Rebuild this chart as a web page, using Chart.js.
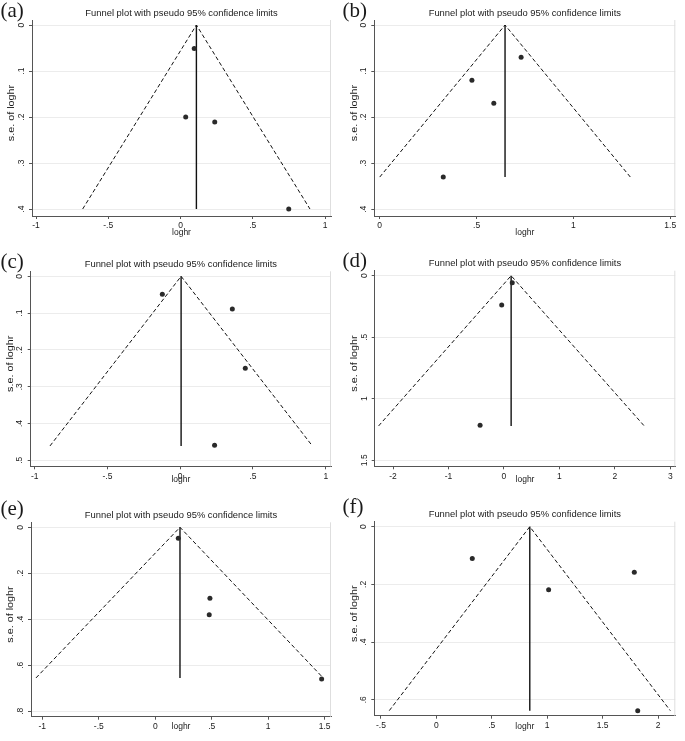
<!DOCTYPE html>
<html>
<head>
<meta charset="utf-8">
<script src="https://cdn.jsdelivr.net/npm/chart.js@4"></script>
<style>
  html, body { margin: 0; padding: 0; background: #fff; }
  #page { position: relative; width: 685px; height: 741px; overflow: hidden; }
  canvas { position: absolute; }
</style>
</head>
<body>
<div id="page"></div>
<script>
// values, one group per panel
const titleText = "Funnel plot with pseudo 95% confidence limits";
const xTitle = "loghr";
const yTitle = "s.e. of loghr";

// (a)
const loghrA = [0.095, 0.036, 0.237, 0.749];
const seA = [0.051, 0.2, 0.211, 0.4];
const funnelXA = [-0.677, 0.11, 0.896];
const funnelYA = [0.4, 0, 0.4];
const xTicksA = [-1, -0.5, 0, 0.5, 1];
const yTicksA = [0, 0.1, 0.2, 0.3, 0.4];

// (b)
const loghrB = [0.73, 0.476, 0.589, 0.328];
const seB = [0.07, 0.12, 0.17, 0.33];
const funnelXB = [0, 0.647, 1.294];
const funnelYB = [0.33, 0, 0.33];
const xTicksB = [0, 0.5, 1, 1.5];
const yTicksB = [0, 0.1, 0.2, 0.3, 0.4];

// (c)
const loghrC = [-0.123, 0.358, 0.447, 0.236];
const seC = [0.049, 0.089, 0.25, 0.459];
const funnelXC = [-0.895, 0.006, 0.908];
const funnelYC = [0.461, 0, 0.461];
const xTicksC = [-1, -0.5, 0, 0.5, 1];
const yTicksC = [0, 0.1, 0.2, 0.3, 0.4, 0.5];

// (d)
const loghrD = [0.15, -0.04, -0.43];
const seD = [0.057, 0.238, 1.215];
const funnelXD = [-2.26, 0.13, 2.53];
const funnelYD = [1.221, 0, 1.221];
const xTicksD = [-2, -1, 0, 1, 2, 3];
const yTicksD = [0, 0.5, 1, 1.5];

// (e)
const loghrE = [0.204, 0.484, 0.478, 1.473];
const seE = [0.048, 0.309, 0.38, 0.66];
const funnelXE = [-1.056, 0.219, 1.487];
const funnelYE = [0.655, 0, 0.655];
const xTicksE = [-1, -0.5, 0, 0.5, 1, 1.5];
const yTicksE = [0, 0.2, 0.4, 0.6, 0.8];

// (f)
const loghrF = [0.324, 1.786, 1.013, 1.817];
const seF = [0.11, 0.158, 0.219, 0.638];
const funnelXF = [-0.425, 0.843, 2.111];
const funnelYF = [0.638, 0, 0.638];
const xTicksF = [-0.5, 0, 0.5, 1, 1.5, 2];
const yTicksF = [0, 0.2, 0.4, 0.6];

// stata style numbers: .5 and -.5
function stataNum(v) {
  return String(v).replace(/^(-?)0\./, "$1.");
}

const sansFamily = '"Liberation Sans", Arial, sans-serif';

// title, panel letter, y title and the faint right edge of the plot region
const panelDecor = {
  id: "panelDecor",
  afterDraw(chart, args, opts) {
    const { ctx, chartArea: a } = chart;
    ctx.save();
    ctx.strokeStyle = "#dedede";
    ctx.lineWidth = 1;
    ctx.beginPath();
    ctx.moveTo(a.right - 0.5, a.top);
    ctx.lineTo(a.right - 0.5, a.bottom);
    ctx.stroke();

    ctx.fillStyle = "#1a1a1a";
    ctx.font = "9.4px " + sansFamily;
    ctx.textAlign = "center";
    ctx.textBaseline = "middle";
    ctx.fillText(titleText, (a.left + a.right) / 2, a.top - 7);

    ctx.save();
    ctx.translate(a.left - 20, (a.top + a.bottom) / 2 - 5);
    ctx.rotate(-Math.PI / 2);
    ctx.scale(1.2, 1);
    ctx.font = "9px " + sansFamily;
    ctx.fillText(yTitle, 0, 0);
    ctx.restore();

    ctx.font = '21px "Liberation Serif", "Times New Roman", serif';
    ctx.textAlign = "left";
    ctx.textBaseline = "alphabetic";
    ctx.fillText(opts.letter, 0.5, opts.letterY);
    ctx.restore();
  },
};

const panels = [
  { letter: "(a)", cell: [0, 0, 342, 247], L: 32, R: 331, T: 20, B: 216, yPad: 4,
    x: [-1.0277, 1.0415], y: [-0.0109, 0.4152], letterY: 16.5,
    loghr: loghrA, se: seA, fx: funnelXA, fy: funnelYA, xt: xTicksA, yt: yTicksA },
  { letter: "(b)", cell: [342, 0, 343, 247], L: 32.3, R: 333.3, T: 20, B: 216, yPad: 4,
    x: [-0.028, 1.526], y: [-0.0109, 0.4145], letterY: 16.5,
    loghr: loghrB, se: seB, fx: funnelXB, fy: funnelYB, xt: xTicksB, yt: yTicksB },
  { letter: "(c)", cell: [0, 247, 342, 247], L: 30.7, R: 331, T: 24.3, B: 219.3, yPad: 4,
    x: [-1.0275, 1.036], y: [-0.0136, 0.5163], letterY: 21.3,
    loghr: loghrC, se: seC, fx: funnelXC, fy: funnelYC, xt: xTicksC, yt: yTicksC },
  { letter: "(d)", cell: [342, 247, 343, 247], L: 32.7, R: 333.3, T: 23.7, B: 219.3, yPad: 1.6,
    x: [-2.33, 3.09], y: [-0.0406, 1.549], letterY: 19.5,
    loghr: loghrD, se: seD, fx: funnelXD, fy: funnelYD, xt: xTicksD, yt: yTicksD },
  { letter: "(e)", cell: [0, 494, 342, 247], L: 31, R: 331, T: 28.3, B: 222.7, yPad: 4,
    x: [-1.1, 1.556], y: [-0.0217, 0.8235], letterY: 20.5,
    loghr: loghrE, se: seE, fx: funnelXE, fy: funnelYE, xt: xTicksE, yt: yTicksE },
  { letter: "(f)", cell: [342, 494, 343, 247], L: 32.3, R: 333.3, T: 27.7, B: 221.7, yPad: 4,
    x: [-0.56, 2.156], y: [-0.0173, 0.6555], letterY: 18.5,
    loghr: loghrF, se: seF, fx: funnelXF, fy: funnelYF, xt: xTicksF, yt: yTicksF },
];

const page = document.getElementById("page");
const axisFont = { family: sansFamily, size: 8.5 };

panels.forEach((p) => {
  const [cx, cy, cw, ch] = p.cell;
  const canvas = document.createElement("canvas");
  canvas.width = cw;
  canvas.height = ch;
  canvas.style.left = cx + "px";
  canvas.style.top = cy + "px";
  page.appendChild(canvas);

  const pooled = p.fx[1];
  const seMax = p.fy[0];

  new Chart(canvas, {
    type: "scatter",
    data: {
      datasets: [
        {
          data: p.fx.map((v, i) => ({ x: v, y: p.fy[i] })),
          showLine: true,
          borderColor: "#111",
          borderWidth: 1,
          borderDash: [4, 2.5],
          pointRadius: 0,
          order: 3,
        },
        {
          data: [{ x: pooled, y: 0 }, { x: pooled, y: seMax }],
          showLine: true,
          borderColor: "#111",
          borderWidth: 1.4,
          pointRadius: 0,
          order: 2,
        },
        {
          data: p.loghr.map((v, i) => ({ x: v, y: p.se[i] })),
          pointRadius: 2.5,
          pointBackgroundColor: "#2a2a2a",
          pointBorderWidth: 0,
          order: 1,
        },
      ],
    },
    options: {
      responsive: false,
      animation: false,
      events: [],
      layout: {
        padding: { left: 0, top: p.T, right: cw - p.R, bottom: 0 },
      },
      plugins: {
        legend: { display: false },
        tooltip: { enabled: false },
        panelDecor: { letter: p.letter, letterY: p.letterY },
      },
      scales: {
        x: {
          type: "linear",
          min: p.x[0],
          max: p.x[1],
          afterBuildTicks: (s) => { s.ticks = p.xt.map((v) => ({ value: v })); },
          afterFit: (s) => { s.height = ch - p.B; },
          ticks: {
            callback: (v) => stataNum(v),
            font: axisFont,
            color: "#1a1a1a",
            padding: 2,
            maxRotation: 0,
            autoSkip: false,
          },
          grid: { drawOnChartArea: false, tickLength: 3, tickColor: "#555" },
          border: { color: "#555", width: 1 },
          title: {
            display: true,
            text: xTitle,
            font: axisFont,
            color: "#1a1a1a",
            padding: { top: 0, bottom: 9 },
          },
        },
        y: {
          type: "linear",
          reverse: true,
          min: p.y[0],
          max: p.y[1],
          afterBuildTicks: (s) => { s.ticks = p.yt.map((v) => ({ value: v })); },
          afterFit: (s) => { s.width = p.L; },
          ticks: {
            callback: (v) => stataNum(v),
            font: axisFont,
            color: "#1a1a1a",
            padding: p.yPad,
            minRotation: 90,
            maxRotation: 90,
            crossAlign: "center",
            autoSkip: false,
          },
          grid: { color: "#ececec", tickLength: 3, tickColor: "#555" },
          border: { color: "#555", width: 1 },
        },
      },
    },
    plugins: [panelDecor],
  });
});
</script>
</body>
</html>
